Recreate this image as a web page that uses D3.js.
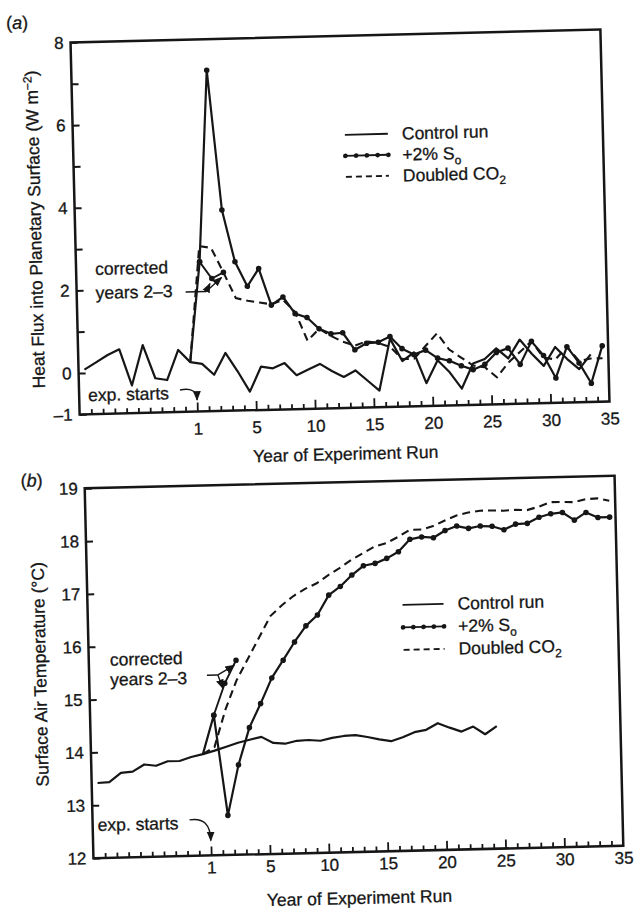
<!DOCTYPE html>
<html>
<head>
<meta charset="utf-8">
<script src="https://cdn.jsdelivr.net/npm/d3@7/dist/d3.min.js"></script>
<style>
  body { margin: 0; background: #fff; }
  svg text { font-family: "Liberation Sans", Arial, Helvetica, sans-serif; fill: #161616; stroke: #161616; stroke-width: 0.3px; }
</style>
</head>
<body>
<svg id="chart" width="634" height="914"></svg>
<script>
// ── Data (years of run; year 1 = first experiment year, plotted mid-year) ──
const ctrlYearsA = [-9,-8,-7,-6,-5,-4,-3,-2,-1,0,1,2,3,4,5,6,7,8,9,10,11,12,13,14,15,16,17,18,19,20,21,22,23,24,25,26,27,28,29,30,31,32,33,34];
const ctrlA      = [0.08,0.25,0.42,0.55,-0.33,0.64,-0.17,-0.22,0.5,0.2,0.15,-0.12,0.4,-0.05,-0.55,0.05,0.0,0.12,-0.18,-0.05,0.08,-0.1,-0.25,-0.1,-0.35,-0.6,0.65,0.1,0.3,-0.45,0.1,-0.2,-0.6,0.0,0.1,0.35,0.1,0.55,0.2,-0.1,0.35,0.05,-0.2,0.15];

const expYears   = [0,1,2,3,4,5,6,7,8,9,10,11,12,13,14,15,16,17,18,19,20,21,22,23,24,25,26,27,28,29,30,31,32,33,34,35];
const solarA     = [0.2,2.62,7.25,3.86,2.6,2.0,2.42,1.53,1.72,1.31,1.21,0.93,0.8,0.82,0.4,0.55,0.57,0.7,0.4,0.25,0.35,0.15,0.08,-0.05,-0.15,-0.03,0.25,0.35,-0.05,0.5,0.15,-0.4,0.35,-0.05,-0.55,0.35];
const co2A       = [0.2,3.0,2.95,2.35,1.72,1.65,1.6,1.55,1.65,1.35,0.65,0.93,0.75,0.6,0.5,0.6,0.55,0.45,0.15,0.15,0.45,0.75,0.35,0.15,-0.05,-0.1,-0.35,0.0,0.25,0.5,0.1,0.05,0.35,0.0,0.05,0.05];

const fixYears   = [1,2,3];
const fixA       = [2.62,2.21,2.35];

const ctrlYearsB = [-9,-8,-7,-6,-5,-4,-3,-2,-1,0,1,2,3,4,5,6,7,8,9,10,11,12,13,14,15,16,17,18,19,20,21,22,23,24,25];
const ctrlB      = [13.42,13.43,13.6,13.62,13.75,13.72,13.8,13.8,13.87,13.92,13.98,14.05,14.12,14.17,14.22,14.1,14.08,14.13,14.14,14.12,14.17,14.2,14.21,14.17,14.12,14.08,14.15,14.24,14.28,14.4,14.31,14.23,14.32,14.17,14.32];
const solarB     = [13.92,14.65,12.75,13.7,14.4,14.85,15.33,15.66,16.0,16.3,16.5,16.87,17.03,17.24,17.41,17.45,17.54,17.66,17.89,17.93,17.91,18.04,18.12,18.07,18.11,18.1,18.03,18.13,18.14,18.25,18.31,18.33,18.18,18.32,18.22,18.22];
const co2B       = [13.92,14.05,14.75,15.3,15.7,16.1,16.5,16.7,16.87,17.0,17.1,17.25,17.38,17.53,17.65,17.77,17.83,17.94,18.07,18.07,18.13,18.23,18.32,18.37,18.4,18.4,18.39,18.4,18.39,18.45,18.53,18.53,18.52,18.57,18.58,18.53];
const fixB       = [14.65,15.25,15.68];

const xTickMinor  = [-9,-8,-7,-6,-5,-4,-3,-2,-1,0,1,2,3,4,5,6,7,8,9,10,11,12,13,14,15,16,17,18,19,20,21,22,23,24,25,26,27,28,29,30,31,32,33,34];
const xTickMajor  = [0,5,10,15,20,25,30,35];
const xTickLabels = ['1','5','10','15','20','25','30','35'];

const yTicksA  = [-1,0,1,2,3,4,5,6,7,8];
const yLabelsA = [-1,0,2,4,6,8];
const yTicksB  = [12,13,14,15,16,17,18,19];

const legendNames = ['Control run', '+2% S', 'Doubled CO'];

const svg = d3.select('#chart');
const defs = svg.append('defs');
defs.append('marker')
  .attr('id', 'arrow').attr('viewBox', '0 0 10 10')
  .attr('refX', 9).attr('refY', 5)
  .attr('markerWidth', 7).attr('markerHeight', 7)
  .attr('orient', 'auto-start-reverse')
  .append('path').attr('d', 'M0,1 L10,5 L0,9 z').attr('fill', '#161616');

const INK = '#161616';
const FS = '17.5px';

function series(years, values) {
  return years.map((yr, i) => ({ yr, v: values[i] }));
}

// ── Panel factory ────────────────────────────────────────────────────────────
function drawPanel(cfg) {
  const cx = (cfg.left + cfg.right) / 2, cy = (cfg.top + cfg.bottom) / 2;
  const g = svg.append('g').attr('transform', `rotate(${cfg.rot},${cx},${cy})`);

  const x = d3.scaleLinear().domain([-10, 35]).range([cfg.left, cfg.right]);
  const y = d3.scaleLinear().domain(cfg.yDomain).range([cfg.bottom, cfg.top]);
  const px = d => x(d.yr - 0.5);

  // y axis, ticks pointing in
  const ya = g.append('g').attr('transform', `translate(${cfg.left},0)`)
    .call(d3.axisLeft(y).tickValues(cfg.yTicks).tickSizeInner(-7).tickSizeOuter(0).tickPadding(7)
      .tickFormat(d => cfg.yLabels.includes(d) ? (d < 0 ? '\u2013' + Math.abs(d) : d) : ''));
  ya.select('.domain').remove();
  ya.selectAll('line').attr('stroke', INK).attr('stroke-width', 2);
  ya.selectAll('text').style('font-size', '17px').attr('fill', INK);

  // x axis, ticks pointing in
  const xa = g.append('g').attr('transform', `translate(0,${cfg.bottom})`)
    .call(d3.axisBottom(x).tickValues(xTickMinor).tickSizeInner(-5).tickSizeOuter(0).tickFormat(''));
  xa.select('.domain').remove();
  xa.selectAll('line').attr('stroke', INK).attr('stroke-width', 1.8)
    .filter(d => xTickMajor.includes(d)).attr('y2', -9);
  const xl = g.append('g').attr('transform', `translate(0,${cfg.bottom})`)
    .call(d3.axisBottom(x).tickValues(xTickMajor).tickSize(0).tickPadding(cfg.xPad)
      .tickFormat((d, i) => xTickLabels[i]));
  xl.select('.domain').remove();
  xl.selectAll('text').style('font-size', '17px').attr('fill', INK);

  // frame
  g.append('rect')
    .attr('x', cfg.left).attr('y', cfg.top)
    .attr('width', cfg.right - cfg.left).attr('height', cfg.bottom - cfg.top)
    .attr('fill', 'none').attr('stroke', INK).attr('stroke-width', 2.5);

  const line = d3.line().x(px).y(d => y(d.v));

  const ctrl = series(cfg.ctrlYears, cfg.ctrl);
  const sol  = series(expYears, cfg.solar);
  const co2  = series(expYears, cfg.co2);
  const fix  = series(fixYears, cfg.fix);

  g.append('path').datum(ctrl).attr('d', line)
    .attr('fill', 'none').attr('stroke', INK).attr('stroke-width', 2.2).attr('stroke-linejoin', 'round');
  g.append('path').datum(co2).attr('d', line)
    .attr('fill', 'none').attr('stroke', INK).attr('stroke-width', 2.1).attr('stroke-dasharray', '8,5');
  g.append('path').datum(sol).attr('d', line)
    .attr('fill', 'none').attr('stroke', INK).attr('stroke-width', 2.2).attr('stroke-linejoin', 'round');
  g.append('path').datum(fix).attr('d', line)
    .attr('fill', 'none').attr('stroke', INK).attr('stroke-width', 1.9);

  g.selectAll('.dot').data(sol.filter(d => d.yr >= 1).concat(fix)).join('circle')
    .attr('class', 'dot').attr('cx', px).attr('cy', d => y(d.v)).attr('r', 2.8).attr('fill', INK);

  // axis titles
  g.append('text')
    .attr('transform', `translate(${cfg.yTitleX},${cy}) rotate(-90)`)
    .attr('text-anchor', 'middle').style('font-size', FS)
    .call(t => cfg.yTitle(t));
  g.append('text')
    .attr('x', cx).attr('y', cfg.xTitleY).attr('text-anchor', 'middle')
    .style('font-size', FS).text('Year of Experiment Run');

  // panel tag
  const tag = g.append('text').attr('x', cfg.tagX).attr('y', cfg.tagY).style('font-size', '18px');
  tag.append('tspan').text('(');
  tag.append('tspan').style('font-style', 'italic').text(cfg.tag);
  tag.append('tspan').text(')');

  // legend
  const lg = g.append('g').attr('transform', `translate(${cfg.legX},${cfg.legY})`);
  const rowH = cfg.legRow, lw = cfg.legW;
  lg.append('line').attr('x1', 0).attr('x2', lw).attr('y1', 0).attr('y2', 0)
    .attr('stroke', INK).attr('stroke-width', 1.9);
  lg.append('line').attr('x1', 0).attr('x2', lw).attr('y1', rowH).attr('y2', rowH)
    .attr('stroke', INK).attr('stroke-width', 1.9);
  lg.selectAll('circle').data([0, 0.25, 0.5, 0.75, 1]).join('circle')
    .attr('cx', d => d * lw).attr('cy', rowH).attr('r', 2.4).attr('fill', INK);
  lg.append('line').attr('x1', 0).attr('x2', lw).attr('y1', 2 * rowH).attr('y2', 2 * rowH)
    .attr('stroke', INK).attr('stroke-width', 1.9).attr('stroke-dasharray', '6,4');
  const tx = lw + 14;
  lg.append('text').attr('x', tx).attr('y', 6).style('font-size', FS).text(legendNames[0]);
  const t1 = lg.append('text').attr('x', tx).attr('y', rowH + 6).style('font-size', FS);
  t1.append('tspan').text(legendNames[1]);
  t1.append('tspan').attr('dy', 5).style('font-size', '12px').text('o');
  const t2 = lg.append('text').attr('x', tx).attr('y', 2 * rowH + 6).style('font-size', FS);
  t2.append('tspan').text(legendNames[2]);
  t2.append('tspan').attr('dy', 5).style('font-size', '12px').text('2');

  // "corrected years 2–3" note
  g.append('text').attr('x', cfg.noteX).attr('y', cfg.noteY).style('font-size', FS).text('corrected');
  g.append('text').attr('x', cfg.noteX).attr('y', cfg.noteY + cfg.noteGap).style('font-size', FS).text('years 2\u20133');
  const fork = [x(cfg.fork[0]), y(cfg.fork[1])];
  g.append('path')
    .attr('d', `M${x(cfg.noteLine)},${fork[1]}L${fork[0]},${fork[1]}`)
    .attr('stroke', INK).attr('stroke-width', 1.5).attr('fill', 'none');
  [1, 2].forEach(i => {
    const tip = [px(fix[i]) - 2, y(fix[i].v) + 5];
    g.append('path')
      .attr('d', `M${fork[0]},${fork[1]}L${tip[0]},${tip[1]}`)
      .attr('stroke', INK).attr('stroke-width', 1.4).attr('fill', 'none')
      .attr('marker-end', 'url(#arrow)');
  });

  // "exp. starts" note
  g.append('text').attr('x', cfg.expX).attr('y', cfg.expY).style('font-size', FS).text('exp. starts');
  const s0 = [cfg.expX + 92, cfg.expY - 9];
  const e0 = [x(0), y(cfg.expTip)];
  g.append('path')
    .attr('d', `M${s0[0]},${s0[1]}Q${e0[0]},${s0[1] - 3} ${e0[0]},${e0[1]}`)
    .attr('stroke', INK).attr('stroke-width', 1.4).attr('fill', 'none')
    .attr('marker-end', 'url(#arrow)');
}

drawPanel({
  left: 75, right: 605, top: 36, bottom: 408, rot: -1.4,
  yDomain: [-1, 8], yTicks: yTicksA, yLabels: yLabelsA, xPad: 11,
  ctrlYears: ctrlYearsA, ctrl: ctrlA, solar: solarA, co2: co2A, fix: fixA,
  yTitleX: 41,
  yTitle: t => {
    t.append('tspan').text('Heat Flux into Planetary Surface (W m');
    t.append('tspan').attr('dy', -6).style('font-size', '12px').text('\u22122');
    t.append('tspan').attr('dy', 6).text(')');
  },
  xTitleY: 460, tag: 'a', tagX: 11, tagY: 21,
  legX: 347, legY: 135, legW: 43, legRow: 21,
  noteX: 94, noteY: 269, noteGap: 24, fork: [1.0, 1.9], noteLine: -0.75,
  expX: 84, expY: 395, expTip: -0.72
});

drawPanel({
  left: 89, right: 619, top: 482, bottom: 852, rot: -1.35,
  yDomain: [12, 19], yTicks: yTicksB, yLabels: yTicksB, xPad: 6,
  ctrlYears: ctrlYearsB, ctrl: ctrlB, solar: solarB, co2: co2B, fix: fixB,
  yTitleX: 46,
  yTitle: t => { t.text('Surface Air Temperature (\u00B0C)'); },
  xTitleY: 904, tag: 'b', tagX: 25, tagY: 479,
  legX: 404, legY: 606, legW: 41, legRow: 22.5,
  noteX: 110, noteY: 660, noteGap: 20, fork: [0.93, 15.41], noteLine: 0.0,
  expX: 94, expY: 825, expTip: 12.28
});
</script>
</body>
</html>
